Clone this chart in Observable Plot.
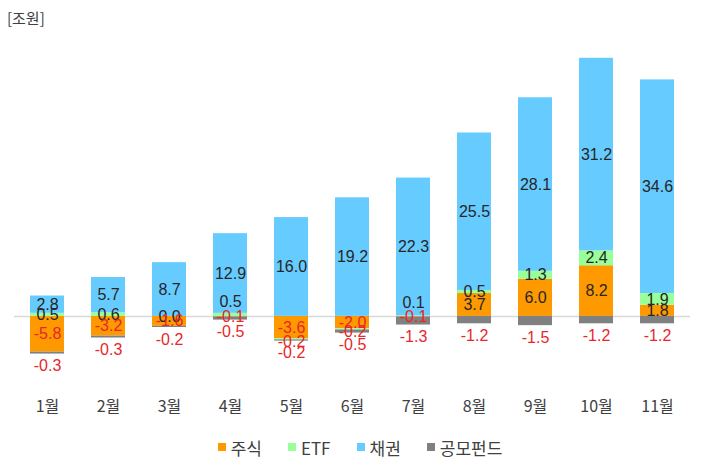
<!DOCTYPE html>
<html><head><meta charset="utf-8">
<script src="https://cdn.jsdelivr.net/npm/d3@7"></script>
<script src="https://cdn.jsdelivr.net/npm/@observablehq/plot@0.6"></script>
<style>
body{margin:0;background:#fff;font-family:"Noto Sans CJK KR",sans-serif;}
#title{height:30px;line-height:36px;padding-left:7px;font-size:15px;color:#404040;}
#legend{display:flex;justify-content:center;align-items:center;height:44px;padding-left:14px;gap:26px;font-size:17px;color:#404040;}
.item{display:flex;align-items:center;}
.sw{display:inline-block;width:8px;height:8px;margin-right:5px;}
</style></head><body>
<div id="title">[조원]</div>
<div id="chart"></div>
<div id="legend"></div>
<script>
const months = ["1월","2월","3월","4월","5월","6월","7월","8월","9월","10월","11월"];
const seriesNames = ["주식","ETF","채권","공모펀드"];
const seriesColors = ["#FF9900","#99FF99","#66CCFF","#808080"];
const stock = [-5.8,-3.2,-1.6,-0.1,-3.6,-2.0,-0.1,3.7,6.0,8.2,1.8];
const etf   = [0.5,0.6,0.0,0.5,-0.2,-0.2,0.1,0.5,1.3,2.4,1.9];
const bond  = [2.8,5.7,8.7,12.9,16.0,19.2,22.3,25.5,28.1,31.2,34.6];
const fund  = [-0.3,-0.3,-0.2,-0.5,-0.2,-0.5,-1.3,-1.2,-1.5,-1.2,-1.2];
const seriesValues = [stock, etf, bond, fund];

const red = "#E8262B", dark = "#262626";
const rows = [], labels = [];
months.forEach((m, i) => {
  let pos = 0, neg = 0;
  seriesNames.forEach((s, j) => {
    const v = seriesValues[j][i];
    let y1, y2;
    if (v >= 0) { y1 = pos; y2 = pos + v; pos = y2; }
    else { y1 = neg; y2 = neg + v; neg = y2; }
    rows.push({month: m, series: s, value: v});
    let place = "center", y = (y1 + y2) / 2;
    if (s === "공모펀드") { place = "below"; y = y2; }
    else if (s === "ETF" && v > 0 && Math.abs(stock[i]) < 0.5) place = "up";
    else if (s === "ETF" && v < 0) place = "down";
    labels.push({month: m, series: s, value: v, y, place});
  });
});

const dys = {center: 0, below: 12, up: -13, down: 3};
function labelMarks(place) {
  const sub = labels.filter(d => d.place === place);
  const opts = (fill) => ({x: "month", y: "y", text: d => d.value.toFixed(1), fill, dy: dys[place],
    fontSize: 16, fontFamily: "Liberation Sans, Arial, sans-serif"});
  return [
    Plot.text(sub.filter(d => d.value >= 0), opts(dark)),
    Plot.text(sub.filter(d => d.value < 0), opts(red))
  ];
}

const chart = Plot.plot({
  width: 706, height: 395,
  marginTop: 8, marginBottom: 35, marginLeft: 14, marginRight: 16,
  x: {domain: months, paddingInner: 0.45, paddingOuter: 0.225, label: null},
  y: {domain: [-12, 45], axis: null},
  color: {domain: seriesNames, range: seriesColors},
  style: {fontFamily: "Noto Sans CJK KR, sans-serif", fontSize: "16px", color: "#404040", background: "transparent"},
  marks: [
    Plot.ruleY([0], {stroke: "#d9d9d9", strokeWidth: 1.5}),
    Plot.barY(rows, Plot.stackY({x: "month", y: "value", z: "series", fill: "series"})),
    Plot.axisX({tickSize: 0, tickPadding: 10, fontSize: 16, fill: "#404040", fontFamily: "Noto Sans CJK KR, sans-serif"}),
    ...labelMarks("center"), ...labelMarks("below"), ...labelMarks("up"), ...labelMarks("down")
  ]
});
document.getElementById("chart").appendChild(chart);

const legend = document.getElementById("legend");
seriesNames.forEach((s, j) => {
  const it = document.createElement("div");
  it.className = "item";
  it.innerHTML = `<span class="sw" style="background:${seriesColors[j]}"></span><span>${s}</span>`;
  legend.appendChild(it);
});
</script>
</body></html>
